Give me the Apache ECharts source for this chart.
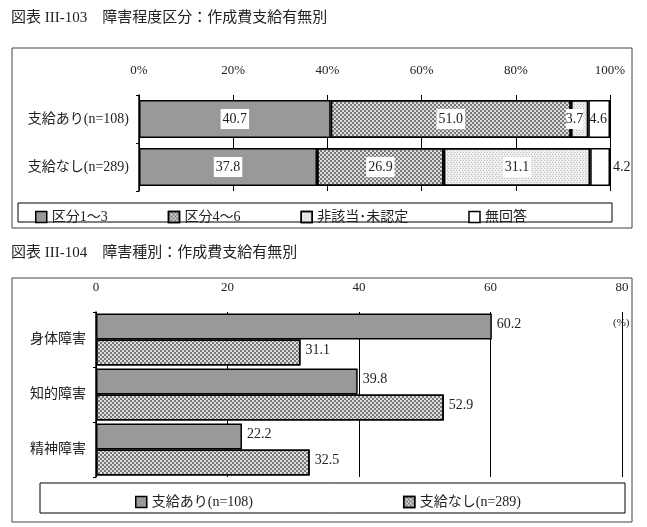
<!DOCTYPE html>
<html>
<head>
<meta charset="utf-8">
<script src="https://cdn.jsdelivr.net/npm/echarts@6/dist/echarts.min.js"></script>
<style>html,body{margin:0;background:#fff}#main{width:647px;height:527px}</style>
</head>
<body>
<div id="main"></div>
<script>
var chart = echarts.init(document.getElementById('main'));
var FONT = '"Liberation Serif","Noto Sans CJK JP",serif';

// chart 1: 障害程度区分
var cats1 = ['支給あり(n=108)', '支給なし(n=289)'];
var names1 = ['区分1～3', '区分4～6', '非該当･未認定', '無回答'];
var vals1 = [
    [40.7, 37.8],
    [51.0, 26.9],
    [3.7, 31.1],
    [4.6, 4.2]
];
var ticks1 = [0, 20, 40, 60, 80, 100];

// chart 2: 障害種別
var cats2 = ['身体障害', '知的障害', '精神障害'];
var names2 = ['支給あり(n=108)', '支給なし(n=289)'];
var vals2 = [
    [60.2, 39.8, 22.2],
    [31.1, 52.9, 32.5]
];
var ticks2 = [0, 20, 40, 60, 80];

var checker = {symbol: 'rect', symbolSize: 1, color: 'rgba(0,0,0,0.45)', dashArrayX: [[2, 2], [0, 2, 2, 0]], dashArrayY: [2, 0]};
var fine = {symbol: 'rect', symbolSize: 1, color: 'rgba(0,0,0,0.2)', dashArrayX: [[1, 2], [0, 1, 1, 1]], dashArrayY: [1, 1]};
var fills1 = [
    {color: '#999', decal: null},
    {color: '#ddd', decal: checker},
    {color: '#eee', decal: fine},
    {color: '#fff', decal: null}
];

var series = [];
names1.forEach(function (n, i) {
    series.push({
        name: n, type: 'bar', stack: 's1', xAxisIndex: 0, yAxisIndex: 0,
        barWidth: 38,
        itemStyle: {color: fills1[i].color, decal: fills1[i].decal, borderColor: '#000', borderWidth: 1.5},
        label: {
            show: true, fontFamily: FONT, fontSize: 14, color: '#222',
            backgroundColor: i < 3 ? '#fff' : 'transparent',
            padding: [3, 2],
            formatter: function (p) { return p.value.toFixed(1); }
        },
        data: vals1[i].map(function (v, j) {
            var d = {value: v};
            if (i == 2 && j == 0) d.label = {position: 'insideRight', padding: [3, 0]};
            if (i == 3 && j == 0) d.label = {position: 'insideRight', padding: [3, 0], offset: [2, 0]};
            if (i == 3 && j == 1) d.label = {position: 'right', distance: 1};
            return d;
        })
    });
});
var fills2 = [{color: '#999', decal: null}, {color: '#ddd', decal: checker}];
names2.forEach(function (n, i) {
    series.push({
        name: n, type: 'bar', xAxisIndex: 1, yAxisIndex: 1,
        barWidth: 26, barGap: '0%',
        itemStyle: {color: fills2[i].color, decal: fills2[i].decal, borderColor: '#000', borderWidth: 1.5},
        label: {show: true, position: 'right', fontFamily: FONT, fontSize: 14, color: '#222', offset: [0, -2],
            formatter: function (p) { return p.value.toFixed(1); }},
        data: vals2[i]
    });
});

function xAx(idx, max, pct) {
    return {
        gridIndex: idx, type: 'value', position: 'top', min: 0, max: max, interval: 20,
        axisLine: {show: false}, axisTick: {show: false},
        axisLabel: {fontFamily: FONT, fontSize: 13, color: '#222', margin: 18,
            formatter: function (v) { return pct ? v + '%' : v; }},
        splitLine: {lineStyle: {color: '#000', width: 1}}
    };
}
function yAx(idx, cats) {
    return {
        gridIndex: idx, type: 'category', inverse: true, data: cats,
        axisLine: {lineStyle: {color: '#000', width: 1.5}}, axisTick: {show: true, length: 3, lineStyle: {color: '#000'}},
        axisLabel: {fontFamily: FONT, fontSize: 14, color: '#222', margin: 10}
    };
}

chart.setOption({
    animation: false,
    title: [
        {text: '図表 III-103　障害程度区分：作成費支給有無別', left: 6, top: 6,
            textStyle: {fontFamily: FONT, fontSize: 15, fontWeight: 'normal', color: '#222'}},
        {text: '図表 III-104　障害種別：作成費支給有無別', left: 6, top: 241,
            textStyle: {fontFamily: FONT, fontSize: 15, fontWeight: 'normal', color: '#222'}}
    ],
    graphic: [
        {type: 'rect', shape: {x: 12, y: 48, width: 620, height: 180}, style: {fill: 'none', stroke: '#444', lineWidth: 1}, silent: true},
        {type: 'rect', shape: {x: 18, y: 203, width: 594, height: 19}, style: {fill: 'none', stroke: '#000', lineWidth: 1}, silent: true},
        {type: 'rect', shape: {x: 12, y: 278, width: 620, height: 244}, style: {fill: 'none', stroke: '#444', lineWidth: 1}, silent: true},
        {type: 'rect', shape: {x: 40, y: 483, width: 585, height: 30}, style: {fill: 'none', stroke: '#000', lineWidth: 1}, silent: true},
        {type: 'text', left: 613, top: 318, style: {text: '(%)', font: '11px ' + FONT, fill: '#222'}}
    ],
    legend: [
        {data: names1, left: 30, top: 205, itemGap: 60, itemWidth: 11, itemHeight: 11, icon: 'rect',
            itemStyle: {borderColor: '#000', borderWidth: 1.5},
            textStyle: {fontFamily: FONT, fontSize: 14, color: '#222'}, selectedMode: false},
        {data: names2, left: 130, top: 490, itemGap: 150, itemWidth: 11, itemHeight: 11, icon: 'rect',
            itemStyle: {borderColor: '#000', borderWidth: 1.5},
            textStyle: {fontFamily: FONT, fontSize: 14, color: '#222'}, selectedMode: false}
    ],
    grid: [
        {left: 139, top: 95, width: 471, height: 96},
        {left: 96, top: 312, width: 526, height: 165}
    ],
    xAxis: [xAx(0, 100, true), xAx(1, 80, false)],
    yAxis: [yAx(0, cats1), yAx(1, cats2)],
    series: series
});
window.addEventListener('resize', function () { chart.resize(); });
</script>
</body>
</html>
